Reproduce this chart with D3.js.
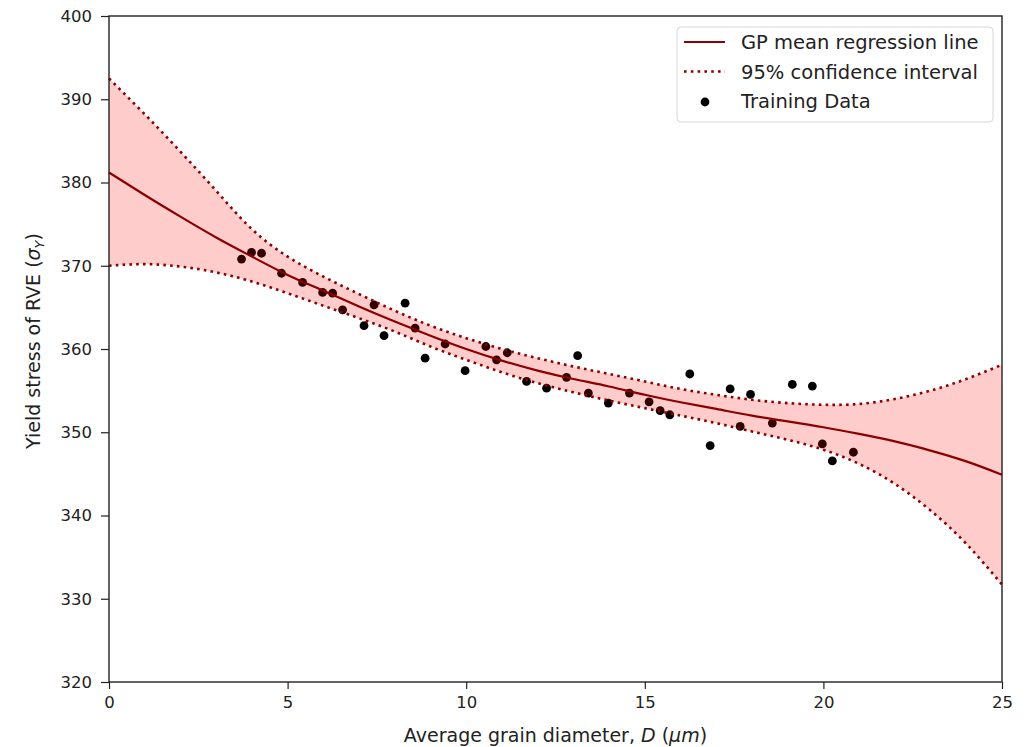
<!DOCTYPE html>
<html>
<head>
<meta charset="utf-8">
<script src="https://cdn.jsdelivr.net/npm/d3@7"></script>
<style>
  body { margin: 0; background: #fff; }
  svg { font-family: "DejaVu Sans", sans-serif; }
</style>
</head>
<body>
<div id="chart"></div>
<script>
// grid for the GP curves (grain diameter, um)
const gridX = [0, 1, 2, 3, 4, 5, 6, 7, 8, 9, 10, 11, 12, 13, 14, 15, 16, 17, 18, 19, 20, 21, 22, 23, 24, 25];
const meanY = [381.2, 378.5, 375.9, 373.4, 371.1, 368.9, 367.0, 365.1, 363.3, 361.6, 360.0, 358.6, 357.4, 356.4, 355.5, 354.5, 353.6, 352.8, 352.0, 351.3, 350.6, 349.8, 348.9, 347.8, 346.5, 344.9];
const upperY = [392.5, 388.2, 383.7, 379.0, 374.4, 371.1, 368.7, 366.6, 364.6, 362.8, 361.3, 360.0, 358.9, 357.9, 357.0, 356.1, 355.2, 354.5, 353.9, 353.5, 353.3, 353.4, 354.0, 355.0, 356.4, 358.1];
const lowerY = [370.0, 370.2, 369.9, 369.2, 368.1, 366.7, 365.2, 363.7, 362.1, 360.3, 358.7, 357.2, 355.9, 354.8, 353.8, 352.9, 352.0, 351.1, 350.1, 349.1, 347.9, 346.2, 343.8, 340.6, 336.6, 331.7];

// training data
const trainX = [3.71, 3.99, 4.27, 4.83, 5.42, 5.98, 6.26, 6.54, 7.14, 7.42, 7.70, 8.29, 8.57, 8.85,
  9.41, 9.97, 10.55, 10.85, 11.15, 11.69, 12.25, 12.81, 13.12, 13.42, 13.98, 14.57, 15.12,
  15.43, 15.70, 16.26, 16.83, 17.39, 17.67, 17.96, 18.57, 19.13, 19.69, 19.97, 20.25, 20.84];
const trainY = [370.8, 371.6, 371.5, 369.1, 368.0, 366.8, 366.7, 364.7, 362.8, 365.3, 361.6, 365.5, 362.5, 358.9,
  360.6, 357.4, 360.3, 358.7, 359.55, 356.1, 355.3, 356.6, 359.2, 354.7, 353.5, 354.7, 353.65,
  352.6, 352.1, 357.0, 348.4, 355.2, 350.7, 354.55, 351.1, 355.75, 355.55, 348.6, 346.55, 347.6];

const xTicks = [0, 5, 10, 15, 20, 25];
const yTicks = [320, 330, 340, 350, 360, 370, 380, 390, 400];
const legendLabels = ['GP mean regression line', '95% confidence interval', 'Training Data'];

const W = 1030, H = 747;
const margin = { top: 16, right: 28, bottom: 65, left: 109 };
const width = W - margin.left - margin.right;
const height = H - margin.top - margin.bottom;

const svg = d3.select('#chart').append('svg')
  .attr('width', W)
  .attr('height', H);

const g = svg.append('g')
  .attr('transform', `translate(${margin.left},${margin.top})`);

const x = d3.scaleLinear().domain([0, 25]).range([0, width]);
const y = d3.scaleLinear().domain([320, 400]).range([height, 0]);

const curve = gridX.map((d, i) => ({ x: d, m: meanY[i], lo: lowerY[i], hi: upperY[i] }));
const pts = trainX.map((d, i) => ({ x: d, y: trainY[i] }));

// training points first, the band is drawn over them
g.selectAll('circle.pt')
  .data(pts)
  .enter().append('circle')
  .attr('class', 'pt')
  .attr('cx', d => x(d.x))
  .attr('cy', d => y(d.y))
  .attr('r', 4.4)
  .attr('fill', '#000');

const area = d3.area()
  .x(d => x(d.x))
  .y0(d => y(d.lo))
  .y1(d => y(d.hi))
  .curve(d3.curveNatural);

g.append('path')
  .datum(curve)
  .attr('fill', 'red')
  .attr('fill-opacity', 0.2)
  .attr('d', area);

const lineOf = key => d3.line()
  .x(d => x(d.x))
  .y(d => y(d[key]))
  .curve(d3.curveNatural);

['lo', 'hi'].forEach(k => {
  g.append('path')
    .datum(curve)
    .attr('fill', 'none')
    .attr('stroke', '#8b0000')
    .attr('stroke-width', 2.6)
    .attr('stroke-dasharray', '2.6,4.2')
    .attr('d', lineOf(k));
});

g.append('path')
  .datum(curve)
  .attr('fill', 'none')
  .attr('stroke', '#8b0000')
  .attr('stroke-width', 2.2)
  .attr('d', lineOf('m'));

// axes
const xAxis = g.append('g')
  .attr('transform', `translate(0,${height})`)
  .call(d3.axisBottom(x).tickValues(xTicks).tickSize(7).tickPadding(7));
const yAxis = g.append('g')
  .call(d3.axisLeft(y).tickValues(yTicks).tickSize(8).tickPadding(9));

[xAxis, yAxis].forEach(a => {
  a.select('.domain').remove();
  a.selectAll('line').attr('stroke', '#222').attr('stroke-width', 1.2);
  a.selectAll('text').attr('fill', '#222').style('font-size', '16.5px').style('font-family', '"DejaVu Sans", sans-serif');
});

// frame
g.append('rect')
  .attr('width', width)
  .attr('height', height)
  .attr('fill', 'none')
  .attr('stroke', '#222')
  .attr('stroke-width', 1.4);

// axis labels
const xl = svg.append('text')
  .attr('x', margin.left + width / 2)
  .attr('y', 742)
  .attr('text-anchor', 'middle')
  .attr('fill', '#222')
  .style('font-size', '19px');
xl.append('tspan').text('Average grain diameter, ');
xl.append('tspan').attr('font-style', 'italic').text('D');
xl.append('tspan').text(' (');
xl.append('tspan').attr('font-style', 'italic').text('μm');
xl.append('tspan').text(')');

const yl = svg.append('text')
  .attr('transform', `translate(40,${margin.top + height / 2 - 8}) rotate(-90)`)
  .attr('text-anchor', 'middle')
  .attr('fill', '#222')
  .style('font-size', '19px');
yl.append('tspan').text('Yield stress of RVE (');
yl.append('tspan').attr('font-style', 'italic').text('σ');
yl.append('tspan').attr('font-style', 'italic').attr('font-size', '13px').attr('dy', 4).text('Y');
yl.append('tspan').attr('dy', -4).text(')');

// legend
const lg = svg.append('g').attr('transform', 'translate(677,27)');
lg.append('rect')
  .attr('width', 316)
  .attr('height', 95)
  .attr('rx', 4)
  .attr('fill', '#fff')
  .attr('fill-opacity', 0.8)
  .attr('stroke', '#d6d6d6');

legendLabels.forEach((t, i) => {
  const row = lg.append('g').attr('transform', `translate(0,${15 + i * 29.5})`);
  if (i === 0) {
    row.append('line').attr('x1', 7).attr('x2', 48)
      .attr('stroke', '#8b0000').attr('stroke-width', 2.2);
  } else if (i === 1) {
    row.append('line').attr('x1', 7).attr('x2', 48)
      .attr('stroke', '#8b0000').attr('stroke-width', 2.6).attr('stroke-dasharray', '2.6,4.2');
  } else {
    row.append('circle').attr('cx', 28).attr('cy', 1).attr('r', 4.4).attr('fill', '#000');
  }
  row.append('text')
    .attr('x', 64)
    .attr('y', 7)
    .attr('fill', '#222')
    .style('font-size', '19.5px')
    .text(t);
});
</script>
</body>
</html>
